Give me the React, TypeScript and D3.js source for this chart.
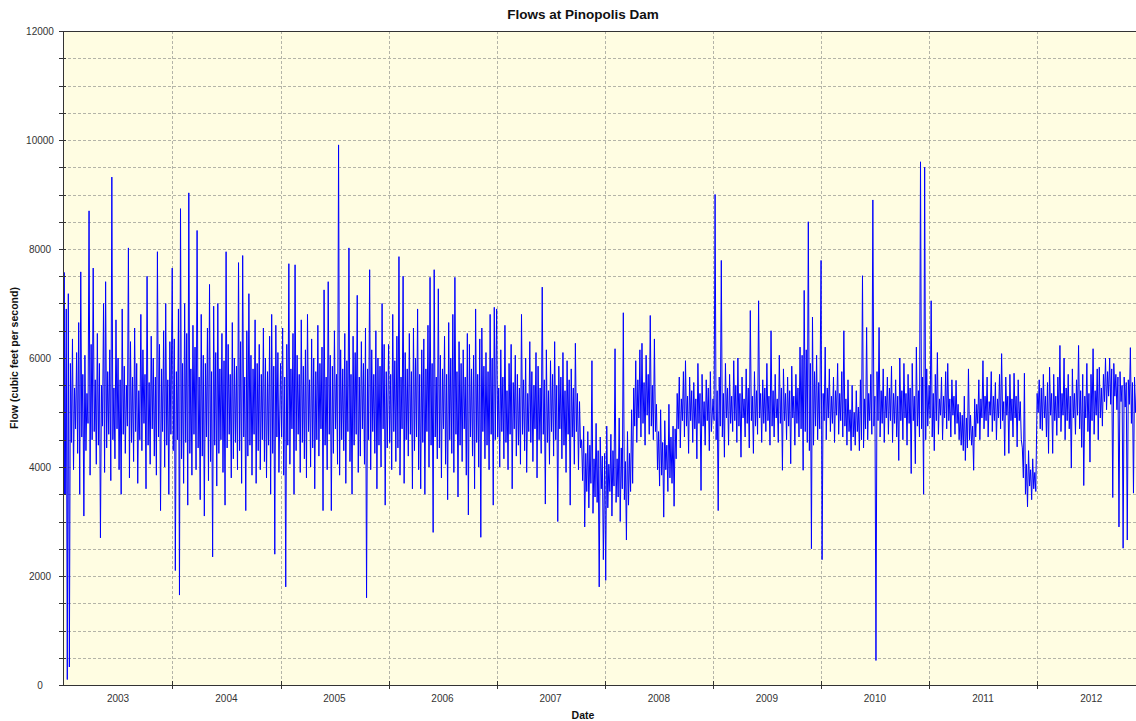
import React from "react";
import * as d3 from "d3";

// ---- data: for every week a high reading (start of week) and a low reading (mid-week), cfs ----
const high2002 = [6900];
const low2002 = [3500];
const high2003 = [7570, 6900, 7180, 5900, 6350, 5450, 6100, 6650, 7580, 5700, 6050, 5350, 8700, 6250, 7650, 5600, 6450, 5900, 5500, 7000, 7400, 5750, 6150, 9320, 5450, 6700, 6000, 5600, 6900, 5850, 5500, 8020, 6300, 5650, 6550, 5900, 5400, 6800, 6150, 5700, 7500, 5550, 6400, 6000, 5650, 7950, 6250, 5800, 6500, 7000, 5600, 6300];
const low2003 = [3500, 100, 330, 4450, 3950, 4700, 4250, 3500, 4550, 3100, 4300, 4800, 3850, 4500, 4650, 4050, 4400, 2700, 4750, 3900, 4350, 4600, 3750, 4500, 4150, 4700, 3950, 3500, 4600, 4250, 4750, 3800, 4450, 4100, 4650, 3700, 4500, 4300, 4800, 3600, 4400, 4050, 4700, 4200, 3850, 4550, 3200, 4650, 4000, 4400, 3500, 4600];
const high2004 = [7650, 6350, 5750, 6900, 8740, 5900, 7000, 6450, 9030, 5800, 6600, 6200, 8340, 5650, 6800, 6050, 5900, 6550, 7350, 5750, 6950, 6100, 7000, 5800, 6450, 5950, 7950, 6250, 5700, 6650, 6000, 5850, 7750, 6300, 7880, 5650, 6500, 7180, 6050, 5800, 6700, 5900, 6250, 5700, 6550, 6000, 5750, 6400, 6800, 5850, 6600, 6100];
const low2004 = [4300, 2100, 4500, 1650, 4150, 3700, 4450, 3300, 4250, 3850, 4600, 3950, 4350, 3400, 4200, 3100, 4550, 3750, 4100, 2350, 4400, 3650, 4250, 4500, 3900, 3300, 4350, 4600, 3800, 4150, 4450, 3950, 4300, 3700, 4550, 3200, 4200, 4400, 3850, 4600, 3700, 4300, 3950, 4500, 4100, 3800, 4400, 3500, 4250, 2400, 4550, 3900];
const high2005 = [5900, 6550, 5650, 6250, 7730, 5800, 6450, 7710, 6050, 5700, 6700, 5850, 6150, 6800, 5600, 6350, 6000, 5750, 6600, 5900, 6200, 7250, 5650, 7400, 6050, 5850, 6500, 5700, 9910, 6150, 5800, 6450, 5950, 8020, 5700, 6400, 6100, 7150, 5650, 6300, 5900, 6550, 5800, 7620, 6150, 5700, 6500, 6000, 5850, 7000, 6250, 5750];
const low2005 = [4550, 3850, 1800, 4400, 4050, 4700, 3500, 4300, 4600, 3900, 4450, 4150, 3800, 4650, 4000, 4350, 3600, 4500, 4200, 4700, 3200, 4400, 3950, 4600, 3200, 4250, 4700, 4050, 3850, 4500, 4300, 3700, 4650, 4100, 3500, 4400, 4600, 3900, 4200, 4700, 4050, 1600, 4500, 3950, 4650, 4250, 3600, 4400, 4000, 4700, 3300, 4350];
const high2006 = [6250, 5700, 6800, 5950, 6400, 7860, 5650, 7500, 6100, 5800, 6450, 5750, 6550, 6000, 6900, 5700, 6150, 6350, 5800, 6600, 7480, 5900, 7620, 5650, 7270, 6050, 5800, 6400, 5700, 6650, 6000, 6800, 7480, 5750, 6300, 5900, 6150, 5650, 6450, 6250, 5800, 6050, 6900, 5700, 6350, 6550, 5850, 6100, 5750, 6800, 6000, 6930];
const low2006 = [4450, 3950, 4650, 4100, 4350, 3850, 4700, 3700, 4500, 4200, 4600, 3600, 4300, 4550, 3950, 3600, 4450, 3500, 4650, 4000, 4400, 2800, 4550, 4150, 4350, 3800, 4700, 4050, 3400, 4500, 4250, 3900, 4600, 3450, 4400, 4100, 4700, 3850, 3120, 4550, 4200, 3600, 4450, 4000, 2710, 4650, 4150, 4400, 3950, 4600, 3300, 4500];
const high2007 = [6900, 5450, 6150, 5650, 6600, 5400, 5900, 6250, 5550, 6050, 5700, 5450, 6800, 5600, 6000, 5350, 6300, 5750, 5500, 6100, 5850, 5450, 7300, 5600, 6150, 5400, 5950, 5700, 6300, 5500, 5850, 5650, 6100, 5400, 5950, 5600, 5800, 5450, 6270, 5350, 5200, 4500, 4750, 4250, 4650, 4400, 5950, 4150, 4800, 4300, 4550, 4200];
const low2007 = [4550, 4000, 4650, 4150, 4450, 3950, 4600, 3600, 4700, 4200, 4400, 4050, 4600, 4300, 3900, 4650, 4450, 4100, 4700, 3800, 4500, 4250, 4600, 3320, 4450, 4050, 4650, 4200, 4500, 3000, 4700, 4150, 4400, 3900, 4600, 3300, 4550, 4050, 4650, 3950, 4350, 3750, 2900, 3550, 3250, 3700, 3150, 3450, 3350, 1800, 3600, 2300];
const high2008 = [4250, 4750, 4050, 4600, 4300, 6170, 4150, 4900, 4350, 6830, 4100, 4650, 4250, 5050, 5450, 5950, 5600, 6150, 6270, 5550, 6050, 5700, 6780, 5500, 6350, 5150, 4650, 5050, 4450, 4850, 4400, 5150, 4550, 4750, 4700, 5350, 5650, 5250, 5750, 5950, 5300, 5650, 5400, 5550, 5250, 5900, 5350, 5700, 5200, 5600, 5450, 5750];
const low2008 = [1920, 3250, 3550, 3100, 3650, 3350, 3450, 3000, 3600, 3400, 2660, 3300, 3550, 3700, 4750, 4450, 4900, 4550, 4800, 4400, 4950, 4600, 4750, 4500, 4650, 3950, 3650, 3850, 3080, 3950, 3550, 3800, 3700, 3280, 4150, 4700, 4350, 4850, 4550, 4750, 4250, 4850, 4450, 4700, 4150, 4800, 3570, 4750, 4400, 4850, 4300, 4650];
const high2009 = [5250, 9000, 5400, 5650, 7790, 5350, 5900, 5450, 5700, 5300, 5950, 5500, 6000, 5350, 5650, 5250, 5800, 5450, 6870, 5300, 5750, 5400, 7050, 5350, 5600, 5450, 5900, 5300, 6500, 5400, 5700, 5250, 6050, 5450, 5800, 5350, 5650, 5400, 5850, 5300, 5700, 5450, 6200, 6050, 7240, 6150, 8500, 5900, 6750, 5750, 6050, 5550];
const low2009 = [4850, 4500, 3200, 4750, 4550, 4180, 4900, 4400, 4800, 4650, 4850, 4450, 4750, 4180, 4900, 4550, 4800, 4350, 4850, 4250, 4750, 4600, 4900, 4450, 4800, 4650, 4850, 4400, 4750, 4550, 4900, 4450, 4800, 3940, 4850, 4500, 4750, 4060, 4900, 4400, 4800, 4550, 4700, 3940, 4650, 4450, 4300, 2500, 4400, 4750, 4500, 4700];
const high2010 = [7790, 5350, 6200, 5450, 5800, 5300, 5650, 5400, 5900, 5350, 5750, 6500, 5250, 5600, 5050, 5500, 5000, 5400, 5100, 5600, 7510, 5250, 6560, 5350, 5700, 8900, 5300, 5750, 6560, 5400, 5800, 5300, 5650, 5450, 5850, 5350, 5600, 5300, 6000, 5400, 5900, 5350, 5700, 5450, 5900, 5300, 6200, 5400, 9600, 5650, 9500, 5800];
const low2010 = [2300, 4850, 4500, 4900, 4650, 4800, 4450, 4950, 4600, 4850, 4550, 4750, 4400, 4650, 4300, 4550, 4400, 4650, 4300, 4500, 4350, 4700, 4500, 4850, 4600, 4750, 450, 4850, 4550, 4800, 4450, 4900, 4600, 4850, 4450, 4800, 4550, 4120, 4850, 4500, 4900, 4400, 4800, 3880, 4850, 4060, 4750, 4550, 4700, 3500, 4500, 4750];
const high2011 = [5500, 7050, 5350, 5700, 6100, 5250, 5650, 5300, 5750, 5900, 5250, 5600, 5300, 5590, 5150, 5000, 4950, 5300, 4900, 5800, 4950, 4750, 5250, 5150, 5600, 5250, 5950, 5300, 5650, 5200, 5750, 5300, 5550, 5250, 5700, 6080, 5200, 5650, 5300, 5700, 5250, 5720, 5300, 5600, 5200, 4350, 5720, 4050, 4300, 3950, 4150, 3900];
const low2011 = [4900, 4550, 4300, 4850, 4600, 4950, 4500, 4900, 4700, 4850, 4550, 4950, 4600, 4800, 4500, 4400, 4300, 4120, 4350, 4500, 4400, 3940, 4550, 4800, 4500, 4900, 4700, 4850, 4550, 4950, 4650, 4850, 4500, 4900, 4700, 4850, 4210, 4950, 4250, 4850, 4550, 4900, 4370, 4850, 4500, 3800, 3500, 3270, 3650, 3400, 3600, 3550];
const high2012 = [5350, 5600, 5450, 5700, 5300, 5550, 5830, 5350, 5700, 5300, 5650, 6230, 5350, 6000, 5450, 5700, 5300, 5800, 5350, 5600, 6230, 5400, 5700, 5300, 5900, 5350, 5700, 6170, 5400, 5800, 5830, 5450, 5700, 6000, 5750, 6000, 5800, 5900, 5700, 5650, 5750, 5500, 5650, 5550, 5600, 6190, 5550, 5650, 5400];
const low2012 = [5000, 4700, 4670, 4900, 4550, 4250, 4950, 4250, 4850, 4580, 4900, 4650, 4950, 4500, 4850, 4700, 3980, 4900, 4600, 4950, 4700, 4360, 3660, 4900, 4650, 4090, 4850, 4600, 4950, 4500, 4900, 4750, 5200, 5050, 5300, 5150, 3440, 5300, 5050, 2900, 5200, 2510, 5100, 2660, 5150, 4800, 3520, 5000, 4850];

const yearLabels = ["2003", "2004", "2005", "2006", "2007", "2008", "2009", "2010", "2011", "2012"];
const yLabelValues = [0, 2000, 4000, 6000, 8000, 10000, 12000];
const yGridValues = [500, 1000, 1500, 2000, 2500, 3000, 3500, 4000, 4500, 5000, 5500, 6000, 6500, 7000, 7500, 8000, 8500, 9000, 9500, 10000, 10500, 11000, 11500, 12000];

const W = 1136;
const H = 721;
const P = { left: 63, top: 31, right: 1136, bottom: 685 };
const DAY = 86400000;

type Pt = [Date, number];

function weeks(start: Date, highs: number[], lows: number[]): Pt[] {
  const out: Pt[] = [];
  const t0 = start.getTime();
  highs.forEach((h, i) => {
    out.push([new Date(t0 + 7 * i * DAY), h]);
    out.push([new Date(t0 + (7 * i + 3.5) * DAY), lows[i]]);
  });
  return out;
}

const series: Pt[] = [
  ...weeks(new Date(2002, 11, 29), high2002, low2002),
  ...weeks(new Date(2003, 0, 1), high2003, low2003),
  ...weeks(new Date(2004, 0, 1), high2004, low2004),
  ...weeks(new Date(2005, 0, 1), high2005, low2005),
  ...weeks(new Date(2006, 0, 1), high2006, low2006),
  ...weeks(new Date(2007, 0, 1), high2007, low2007),
  ...weeks(new Date(2008, 0, 1), high2008, low2008),
  ...weeks(new Date(2009, 0, 1), high2009, low2009),
  ...weeks(new Date(2010, 0, 1), high2010, low2010),
  ...weeks(new Date(2011, 0, 1), high2011, low2011),
  ...weeks(new Date(2012, 0, 1), high2012, low2012),
];

export default function App() {
  const x = d3
    .scaleTime()
    .domain([new Date(2002, 11, 28), new Date(2012, 10, 30)])
    .range([P.left, P.right]);
  const y = d3.scaleLinear().domain([0, 12000]).range([P.bottom, P.top]);

  const line = d3
    .line<Pt>()
    .x((d) => x(d[0]))
    .y((d) => y(d[1]));

  const yearStarts = yearLabels.map((s) => new Date(+s, 0, 1));
  const tickFont = "'Liberation Sans', Arial, sans-serif";
  const textColor = "#333";

  return (
    <svg
      width={W}
      height={H}
      style={{ position: "absolute", left: 0, top: 0, background: "#fff" }}
      fontFamily={tickFont}
    >
      <defs>
        <clipPath id="plotclip">
          <rect x={P.left} y={P.top} width={P.right - P.left} height={P.bottom - P.top} />
        </clipPath>
      </defs>
      <text x={583} y={19} textAnchor="middle" fontSize={13.5} fontWeight="bold" fill="#111">
        Flows at Pinopolis Dam
      </text>

      <rect
        x={P.left}
        y={P.top}
        width={P.right - P.left}
        height={P.bottom - P.top}
        fill="#fffde2"
      />

      {yGridValues.map((v) => (
        <line
          key={"hg" + v}
          x1={P.left}
          x2={P.right}
          y1={Math.round(y(v)) + 0.5}
          y2={Math.round(y(v)) + 0.5}
          stroke="#b4b4a8"
          strokeDasharray="3,2"
          shapeRendering="crispEdges"
        />
      ))}
      {yearStarts.slice(1).map((d, i) => (
        <line
          key={"vg" + i}
          x1={Math.round(x(d)) + 0.5}
          x2={Math.round(x(d)) + 0.5}
          y1={P.top}
          y2={P.bottom}
          stroke="#b4b4a8"
          strokeDasharray="3,2"
          shapeRendering="crispEdges"
        />
      ))}

      <path
        d={line(series) || ""}
        fill="none"
        stroke="#0000ff"
        strokeWidth={1}
        clipPath="url(#plotclip)"
      />

      <line x1={P.left + 0.5} x2={P.left + 0.5} y1={P.top} y2={P.bottom} stroke="#333" shapeRendering="crispEdges" />
      <line x1={P.left - 4} x2={P.right} y1={P.bottom + 0.5} y2={P.bottom + 0.5} stroke="#333" shapeRendering="crispEdges" />
      <line x1={P.left} x2={P.right} y1={P.top + 0.5} y2={P.top + 0.5} stroke="#333" shapeRendering="crispEdges" />

      {[0, ...yGridValues].map((v) => (
        <line
          key={"yt" + v}
          x1={P.left - 4}
          x2={P.left + 3}
          y1={Math.round(y(v)) + 0.5}
          y2={Math.round(y(v)) + 0.5}
          stroke="#333"
          shapeRendering="crispEdges"
        />
      ))}
      {yLabelValues.map((v) => (
        <text key={"yl" + v} x={40} y={y(v)} dy="0.35em" textAnchor="middle" fontSize={10} fill={textColor}>
          {v}
        </text>
      ))}

      {yearStarts.slice(1).map((d, i) => (
        <line
          key={"xt" + i}
          x1={Math.round(x(d)) + 0.5}
          x2={Math.round(x(d)) + 0.5}
          y1={P.bottom - 4}
          y2={P.bottom + 4}
          stroke="#333"
          shapeRendering="crispEdges"
        />
      ))}
      {yearLabels.map((s) => (
        <text key={"xl" + s} x={x(new Date(+s, 6, 2))} y={702} textAnchor="middle" fontSize={10} fill={textColor}>
          {s}
        </text>
      ))}

      <text x={583} y={719} textAnchor="middle" fontSize={10.5} fontWeight="bold" fill="#111">
        Date
      </text>
      <text
        transform={`translate(18, ${(P.top + P.bottom) / 2}) rotate(-90)`}
        textAnchor="middle"
        fontSize={10.5}
        fontWeight="bold"
        fill="#111"
      >
        Flow (cubic feet per second)
      </text>
    </svg>
  );
}
